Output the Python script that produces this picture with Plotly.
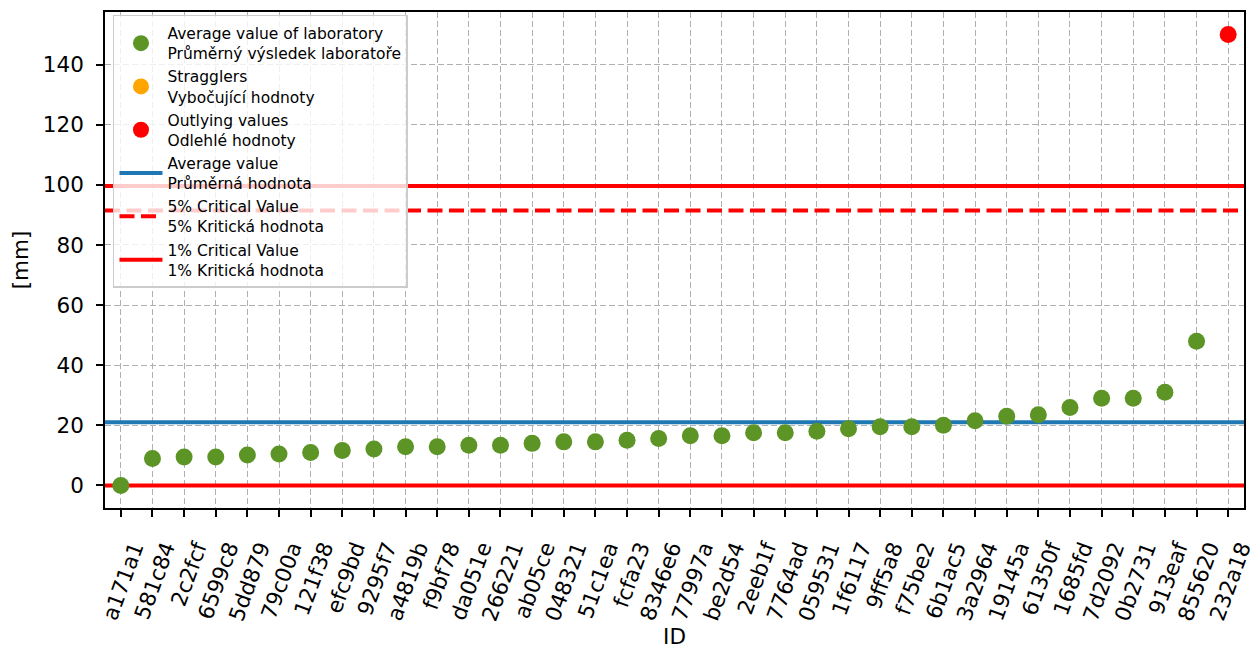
import plotly.graph_objects as go

ids = ["a171a1", "581c84", "2c2fcf", "6599c8", "5dd879", "79c00a", "121f38", "efc9bd",
       "9295f7", "a4819b", "f9bf78", "da051e", "266221", "ab05ce", "048321", "51c1ea",
       "fcfa23", "8346e6", "77997a", "be2d54", "2eeb1f", "7764ad", "059531", "1f6117",
       "9ff5a8", "f75be2", "6b1ac5", "3a2964", "19145a", "61350f", "1685fd", "7d2092",
       "0b2731", "913eaf", "855620", "232a18"]
values = [0.0, 9.0, 9.5, 9.5, 10.1, 10.5, 11.0, 11.6, 12.1, 12.9, 12.9, 13.4, 13.4,
          14.0, 14.5, 14.5, 15.0, 15.6, 16.5, 16.5, 17.5, 17.5, 18.0, 18.9, 19.5, 19.5,
          20.0, 21.5, 23.0, 23.5, 25.9, 29.0, 29.0, 31.0, 48.0, 150.0]
average_value = 21.0
crit5_upper = 91.5
crit1_upper = 99.6
crit1_lower = 0.0

y_ticks = [0, 20, 40, 60, 80, 100, 120, 140]

GREEN = "#5c9426"
ORANGE = "#ffa500"
RED = "#ff0000"
BLUE = "#1f77b4"
FONT = "DejaVu Sans"

n = len(ids)
xpos = list(range(n))
x_lo, x_hi = -0.5, n - 0.5

normal_x, normal_y, strag_x, strag_y, out_x, out_y = [], [], [], [], [], []
for i, v in zip(xpos, values):
    if v > crit1_upper or v < crit1_lower:
        out_x.append(i); out_y.append(v)
    elif v > crit5_upper:
        strag_x.append(i); strag_y.append(v)
    else:
        normal_x.append(i); normal_y.append(v)

fig = go.Figure()

fig.add_trace(go.Scatter(x=[x_lo, x_hi], y=[average_value, average_value], mode="lines",
                         line=dict(color=BLUE, width=4),
                         name="Average value<br>Průměrná hodnota", legendrank=4))
fig.add_trace(go.Scatter(x=[x_lo, x_hi], y=[crit5_upper, crit5_upper], mode="lines",
                         line=dict(color=RED, width=4, dash="15px,6.5px"),
                         name="5% Critical Value<br>5% Kritická hodnota", legendrank=5))
fig.add_trace(go.Scatter(x=[x_lo, x_hi, None, x_lo, x_hi],
                         y=[crit1_upper, crit1_upper, None, crit1_lower, crit1_lower],
                         mode="lines", line=dict(color=RED, width=4),
                         name="1% Critical Value<br>1% Kritická hodnota", legendrank=6))

fig.add_trace(go.Scatter(x=normal_x, y=normal_y, mode="markers",
                         marker=dict(color=GREEN, size=17),
                         name="Average value of laboratory<br>Průměrný výsledek laboratoře",
                         legendrank=1))
fig.add_trace(go.Scatter(x=strag_x if strag_x else [None], y=strag_y if strag_y else [None],
                         mode="markers", marker=dict(color=ORANGE, size=17),
                         name="Stragglers<br>Vybočující hodnoty", legendrank=2))
fig.add_trace(go.Scatter(x=out_x, y=out_y, mode="markers",
                         marker=dict(color=RED, size=17),
                         name="Outlying values<br>Odlehlé hodnoty", legendrank=3))

axis_common = dict(showline=True, mirror=True, linecolor="black", linewidth=1.7,
                   ticks="outside", ticklen=7, tickwidth=1.7, tickcolor="black",
                   showgrid=True, gridcolor="#b0b0b0", gridwidth=1, griddash="6px,3px",
                   zeroline=False, tickfont=dict(size=21.5, color="black", family=FONT),
                   title_font=dict(size=21.5, color="black", family=FONT))

fig.update_xaxes(range=[x_lo, x_hi], tickmode="array", tickvals=xpos, ticktext=ids,
                 tickangle=-70, ticklabelshift=13, ticklabelstandoff=10,
                 title_text="ID", title_standoff=8, **axis_common)
fig.update_yaxes(range=[-7.5, 157.5], tickmode="array", tickvals=y_ticks,
                 ticklabelstandoff=8, title_text="[mm]", title_standoff=11, **axis_common)

# page body has an 8px margin: shrink figure so plot area lands where the reference has it
fig.update_layout(
    width=1250, height=641,
    margin=dict(l=97, r=12, t=2, b=131),
    plot_bgcolor="white", paper_bgcolor="white",
    font=dict(family=FONT, color="black"),
    legend=dict(x=0.007, y=0.994, xanchor="left", yanchor="top",
                bgcolor="rgba(255,255,255,0.8)", bordercolor="#cccccc", borderwidth=1.5,
                font=dict(size=15.5, family=FONT, color="black"),
                itemsizing="trace", itemwidth=43),
)

fig.write_html("out.html")
